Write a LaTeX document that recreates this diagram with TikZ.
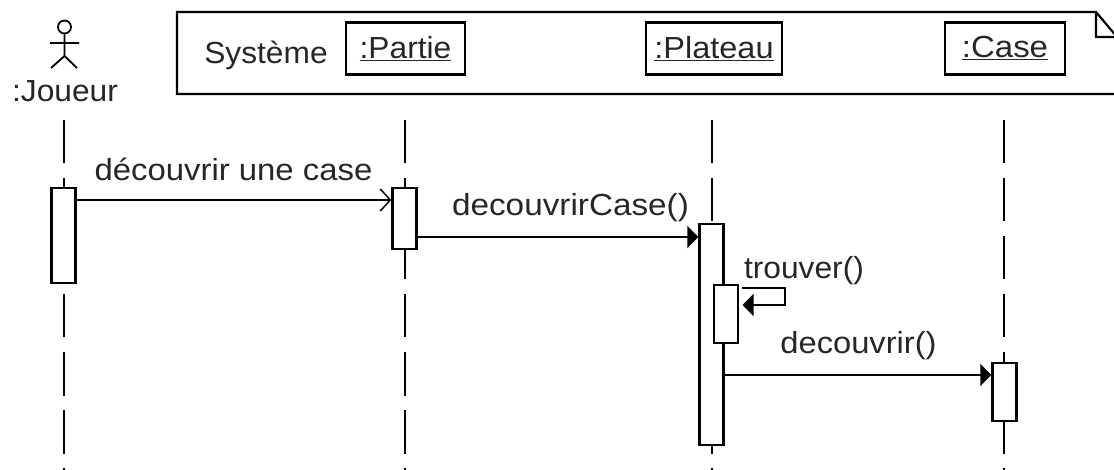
\documentclass[tikz,border=0pt]{standalone}
\usepackage{graphicx}
\usepackage{fontspec}
\setmainfont[FakeStretch=1.04]{Liberation Sans}
\usetikzlibrary{arrows.meta}
\tikzset{
  x=1pt,y=-1pt,
  lifeline/.style={line width=2pt,dash pattern=on 43.5pt off 14.5pt},
  activation/.style={draw,fill=white,line width=2.4pt,inner sep=0pt,minimum width=24pt},
  objbox/.style={draw,line width=2.2pt,inner sep=0pt,minimum height=52pt,text=black!85,font=\fontsize{30.5}{31}\selectfont},
  label/.style={inner sep=0pt,text=black!85,font=\fontsize{30.5}{31}\selectfont,anchor=base},
  msg/.style={line width=2pt},
  sync/.style={msg,-{Triangle[length=11pt,width=22pt]}},
  async/.style={msg,-{Straight Barb[length=10pt,width=22pt,line width=1.5pt]}},
}
\begin{document}
\begin{tikzpicture}
\clip (0,0) rectangle (1114,470);
% system frame
\draw[line width=2.2pt] (1117,94) -- (177,94) -- (177,12) -- (1096,12) -- (1117,37) -- (1096,37) -- (1096,12);
% object boxes
\node[objbox,minimum width=119pt] (partie) at (405.5,48.5) {\underline{:Partie}};
\node[objbox,minimum width=136pt] (plateau) at (714,48.5) {\scalebox{1.025}[1]{\underline{:Plateau}}};
\node[objbox,minimum width=120pt] (case) at (1005,48.5) {\scalebox{1.04}[1]{\underline{:Case}}};
\node[label] (systeme) at (266,64) {Système};
% actor
\node[draw,circle,line width=1.8pt,minimum size=13pt,inner sep=0pt] (head) at (64.5,27) {};
\coordinate (hip) at (64.5,56);
\coordinate (armL) at (50,43);
\coordinate (armR) at (79,43);
\coordinate (legL) at (51,68);
\coordinate (legR) at (77,68);
\draw[line width=1.8pt] (head) -- (hip) (armL) -- (armR) (legL) -- (hip) -- (legR);
\node[label] (joueur) at (65,102) {:Joueur};
% lifelines
\coordinate (lt1) at (63.5,120); \coordinate (lb1) at (63.5,470);
\coordinate (lt2) at (404.5,120); \coordinate (lb2) at (404.5,470);
\coordinate (lt3) at (711.5,120); \coordinate (lb3) at (711.5,470);
\coordinate (lt4) at (1004,120); \coordinate (lb4) at (1004,470);
\draw[lifeline] (lt1) -- (lb1);
\draw[lifeline] (lt2) -- (lb2);
\draw[lifeline] (lt3) -- (lb3);
\draw[lifeline] (lt4) -- (lb4);
% activations
\node[activation,minimum height=95pt] (a1) at (63.5,235.5) {};
\node[activation,minimum height=61pt] (a2) at (404.5,218.5) {};
\node[activation,minimum height=221pt] (a3) at (711.5,334.5) {};
\node[activation,minimum height=58pt] (a4) at (726,314) {};
\node[activation,minimum height=58pt] (a5) at (1004.5,392) {};
% messages
\coordinate (m1) at (0,200);
\coordinate (m2) at (0,237);
\coordinate (m3) at (0,375);
\draw[async] (a1.east |- m1) -- (a2.west |- m1);
\draw[sync] (a2.east |- m2) -- (a3.west |- m2);
\draw[sync] (a3.east |- m3) -- (a5.west |- m3);
\coordinate (s1) at (742,288);
\coordinate (s2) at (784.5,288);
\coordinate (s3) at (784.5,305);
\coordinate (s4) at (742.5,305);
\draw[sync] (s1) -- (s2) -- (s3) -- (s4);
\node[label] (l1) at (233.5,181) {\scalebox{1.037}[1]{découvrir une case}};
\node[label] (l2) at (570.5,216) {\scalebox{1.05}[1]{decouvrirCase()}};
\node[label] (l3) at (804,279) {trouver()};
\node[label] (l4) at (858.5,353) {\scalebox{1.03}[1]{decouvrir()}};
\end{tikzpicture}
\end{document}
